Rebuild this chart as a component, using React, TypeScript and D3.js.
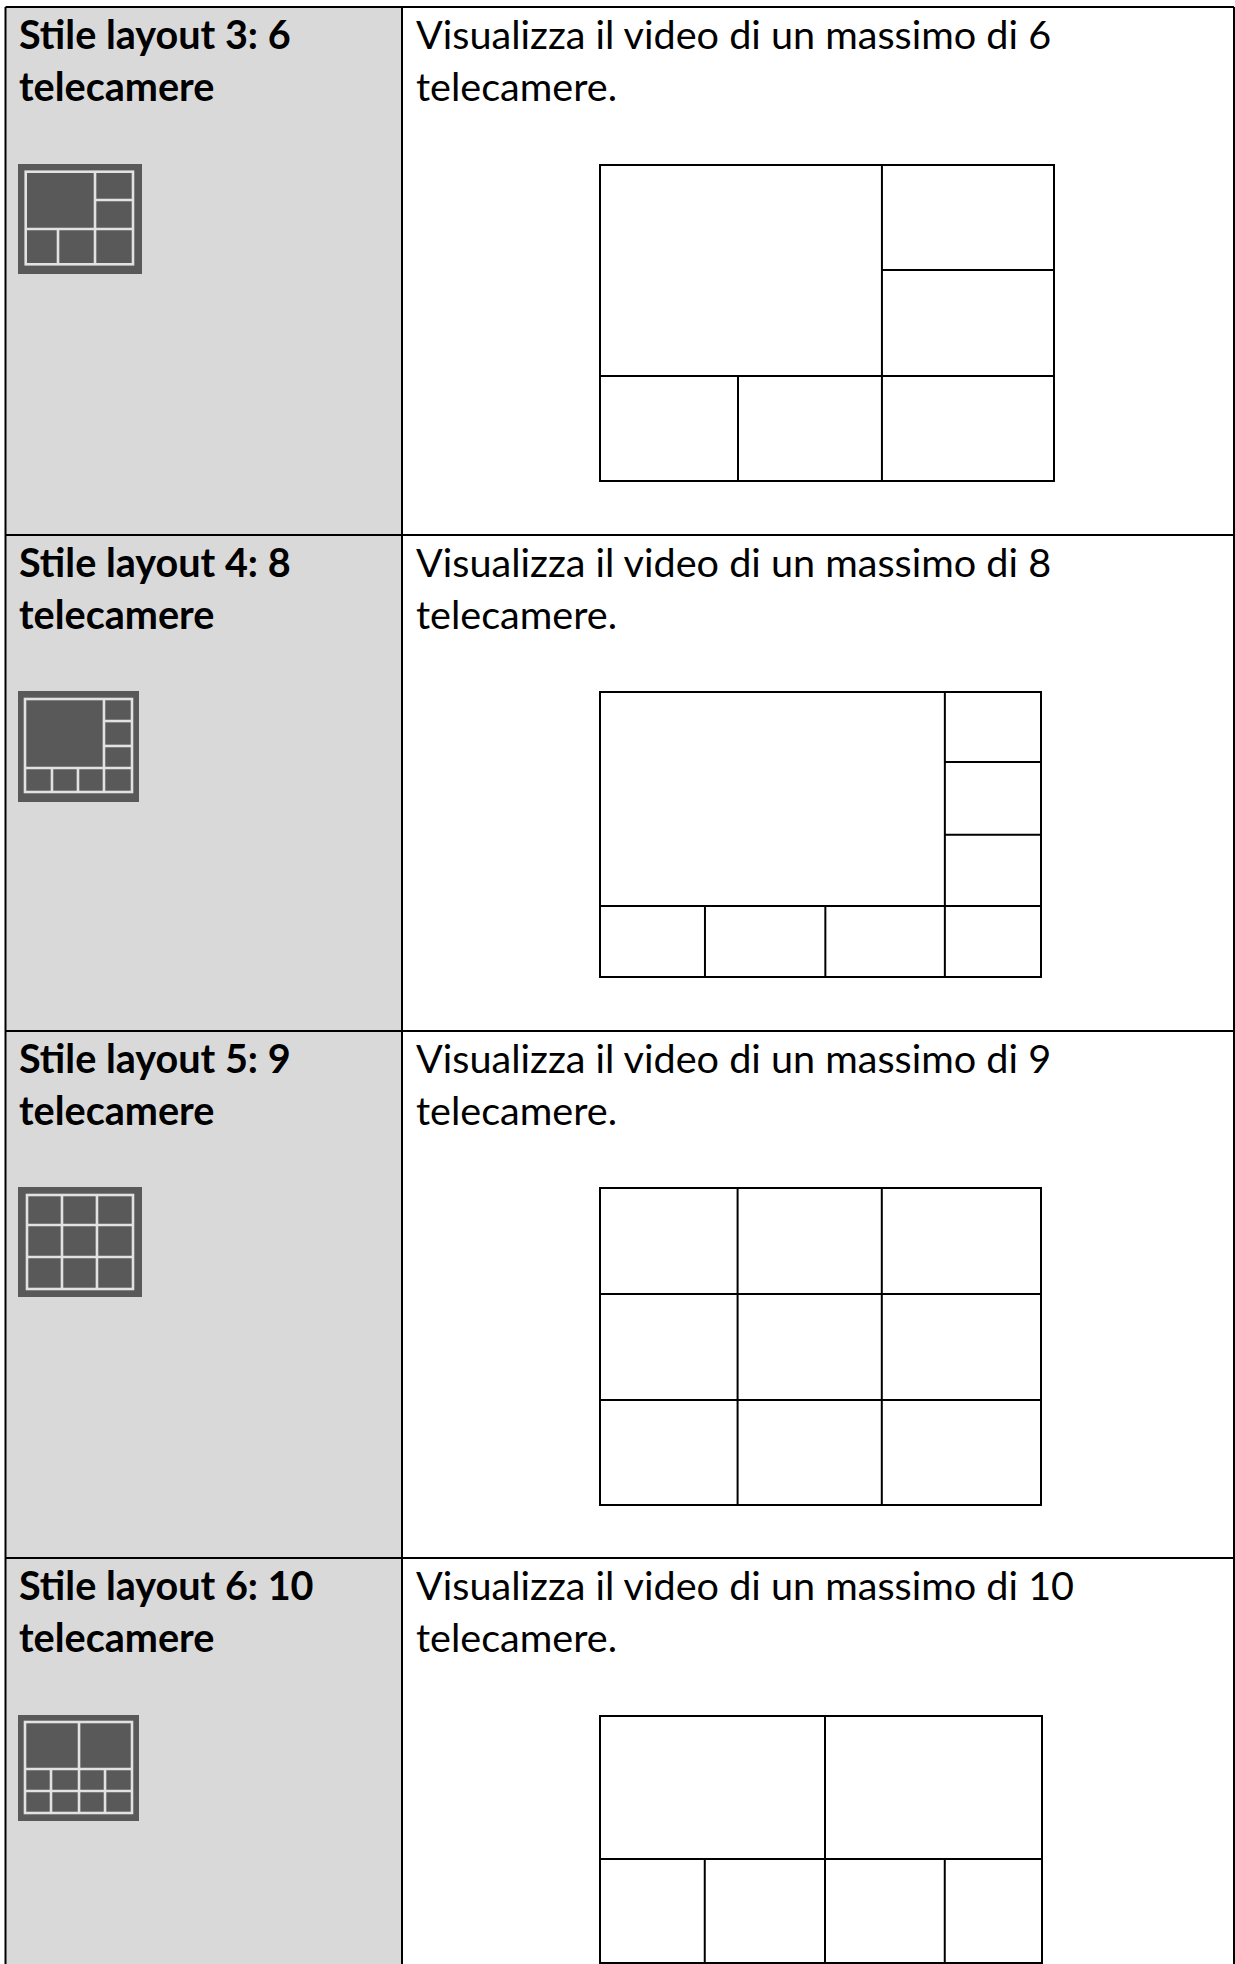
import * as d3 from "d3";

type Seg = [number, number, number, number];

const width = 1235;
const height = 1964;

// table
const rowTops = [7, 535, 1031, 1558];
const layoutNumbers = [3, 4, 5, 6];
const cameraCounts = [6, 8, 9, 10];
const leftEdge = 5.5;
const divider = 402;
const rightEdge = 1234;

// inner lines, in percent of each frame
const bigLines: Seg[][] = [
  [[62.1, 0, 62.1, 100], [62.1, 33.2, 100, 33.2], [0, 66.8, 100, 66.8], [30.4, 66.8, 30.4, 100]],
  [[78.2, 0, 78.2, 100], [78.2, 24.6, 100, 24.6], [78.2, 50.1, 100, 50.1], [0, 75.1, 100, 75.1], [23.8, 75.1, 23.8, 100], [51.1, 75.1, 51.1, 100]],
  [[31.2, 0, 31.2, 100], [63.9, 0, 63.9, 100], [0, 33.44, 100, 33.44], [0, 66.9, 100, 66.9]],
  [[50.9, 0, 50.9, 100], [0, 57.9, 100, 57.9], [23.7, 57.9, 23.7, 100], [78, 57.9, 78, 100]],
];
const iconLines: Seg[][] = [
  [[64.6, 0, 64.6, 100], [64.6, 30.6, 100, 30.6], [0, 61.9, 100, 61.9], [30.1, 61.9, 30.1, 100]],
  [[73.8, 0, 73.8, 100], [73.8, 23.7, 100, 23.7], [73.8, 50.5, 100, 50.5], [0, 74.2, 100, 74.2], [25.2, 74.2, 25.2, 100], [49.5, 74.2, 49.5, 100]],
  [[33, 0, 33, 100], [66, 0, 66, 100], [0, 31.9, 100, 31.9], [0, 66, 100, 66]],
  [[50.5, 0, 50.5, 100], [0, 51.6, 100, 51.6], [0, 75.8, 100, 75.8], [24.3, 51.6, 24.3, 100], [74.8, 51.6, 74.8, 100]],
];

// frames: x0, x1, y0, y1
const bigFrames = [
  [600, 1054, 165, 481],
  [600, 1041, 692, 977],
  [600, 1041, 1188, 1505],
  [600, 1042, 1716, 1963],
];
const iconBoxes = [
  [18, 142, 164, 274],
  [18, 139, 691, 802],
  [18, 142, 1187, 1297],
  [18, 139, 1715, 1821],
];
const iconFrames = [
  [25.7, 133, 171.7, 264.3],
  [25, 132, 699, 792],
  [27, 133, 1195, 1289],
  [25, 132, 1722, 1813],
];

const font = "Lato, 'Open Sans', sans-serif";
const fontSize = 39.6;

const Panel = ({ frame, lines, stroke, sw, filter }: { frame: number[]; lines: Seg[]; stroke: string; sw: number; filter?: string }) => {
  const x = d3.scaleLinear().domain([0, 100]).range([frame[0], frame[1]]);
  const y = d3.scaleLinear().domain([0, 100]).range([frame[2], frame[3]]);
  return (
    <g stroke={stroke} strokeWidth={sw} fill="none" filter={filter}>
      <rect x={x(0)} y={y(0)} width={x(100) - x(0)} height={y(100) - y(0)} />
      {lines.map((d, i) => (
        <line key={i} x1={x(d[0])} y1={y(d[1])} x2={x(d[2])} y2={y(d[3])} />
      ))}
    </g>
  );
};

const App = () => {
  const rowBottoms = rowTops.map((t, i) => rowTops[i + 1] ?? height + 10);
  return (
    <svg width={width} height={height} style={{ position: "absolute", left: 0, top: 0, background: "#fff" }}>
      <defs>
        <filter id="soft" x="-5%" y="-5%" width="110%" height="110%">
          <feGaussianBlur stdDeviation="0.7" />
        </filter>
      </defs>
      {/* grey label column */}
      <rect x={leftEdge} y={rowTops[0]} width={divider - leftEdge} height={height} fill="#d9d9d9" />

      {rowTops.map((top, i) => (
        <g key={i}>
          <g fontFamily={font} fontSize={fontSize} fontWeight={700} fill="#000">
            <text x={19} y={top + 42}>{`Stile layout ${layoutNumbers[i]}: ${cameraCounts[i]}`}</text>
            <text x={19} y={top + 94}>telecamere</text>
          </g>
          <g fontFamily={font} fontSize={fontSize} fill="#000">
            <text x={416} y={top + 42}>{`Visualizza il video di un massimo di ${cameraCounts[i]}`}</text>
            <text x={416} y={top + 94}>telecamere.</text>
          </g>
          <rect
            x={iconBoxes[i][0]}
            y={iconBoxes[i][2]}
            width={iconBoxes[i][1] - iconBoxes[i][0]}
            height={iconBoxes[i][3] - iconBoxes[i][2]}
            fill="#595959"
          />
          <Panel frame={iconFrames[i]} lines={iconLines[i]} stroke="#e2e2e2" sw={2.6} filter="url(#soft)" />
          <Panel frame={bigFrames[i]} lines={bigLines[i]} stroke="#000" sw={2} />
          <line x1={leftEdge} x2={rightEdge} y1={top} y2={top} stroke="#000" strokeWidth={2} />
          <line x1={divider} x2={divider} y1={top} y2={rowBottoms[i]} stroke="#000" strokeWidth={2} />
        </g>
      ))}
      <line x1={leftEdge} x2={leftEdge} y1={rowTops[0]} y2={height} stroke="#000" strokeWidth={2} />
      <line x1={rightEdge} x2={rightEdge} y1={rowTops[0]} y2={height} stroke="#000" strokeWidth={2} />
    </svg>
  );
};

export default App;
